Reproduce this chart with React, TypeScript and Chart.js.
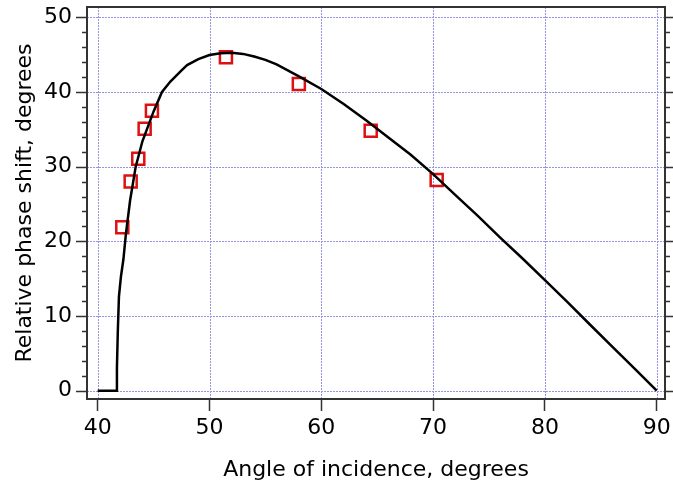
import React, { useEffect, useRef } from "react";
import { Chart, registerables } from "chart.js";

Chart.register(...registerables);

// Theoretical curve
const curveAngles = [40, 41.7, 41.72, 41.8, 41.9, 42.08, 42.3, 42.53, 42.9, 43.4, 44, 45, 45.75, 46.5, 47.5, 48, 49, 50, 51, 52, 53, 54, 55, 56, 58, 60, 62, 64, 66, 68, 70, 72, 74, 76, 78, 80, 82, 84, 86, 88, 90];
const curvePhase = [0, 0, 3, 8, 12.6, 15.3, 17.6, 21.1, 25.5, 30, 33.4, 37.4, 40, 41.4, 42.9, 43.6, 44.4, 44.95, 45.2, 45.25, 45.1, 44.75, 44.3, 43.7, 42.1, 40.4, 38.4, 36.2, 33.9, 31.6, 29.0, 26.2, 23.4, 20.5, 17.7, 14.8, 11.9, 8.9, 5.95, 3.0, 0];

// Measured points (red squares)
const measuredAngles = [42.2, 42.95, 43.63, 44.2, 44.85, 51.47, 57.99, 64.42, 70.32];
const measuredPhase = [21.9, 28.0, 31.06, 35.08, 37.5, 44.64, 41.07, 34.81, 28.2];

// Axes
const xTicks = [40, 50, 60, 70, 80, 90];
const yTicks = [0, 10, 20, 30, 40, 50];
const yMinorTicks = [0, 2, 4, 6, 8, 10, 12, 14, 16, 18, 20, 22, 24, 26, 28, 30, 32, 34, 36, 38, 40, 42, 44, 46, 48, 50];
const xRange = [39.043, 90.742];
const yRange = [-1.11, 51.38];

const FONT = { family: "'DejaVu Sans', sans-serif", size: 22 };
const GRID_COLOR = "#9494e0";
const FRAME_COLOR = "#333333";

const gridPlugin = {
  id: "dottedGrid",
  beforeDatasetsDraw(chart: any) {
    const { ctx, chartArea } = chart;
    const { left, right, top, bottom } = chartArea;
    const xs = chart.scales.x;
    const ys = chart.scales.y;
    ctx.save();
    ctx.strokeStyle = GRID_COLOR;
    ctx.lineWidth = 1;
    ctx.setLineDash([2, 1]);
    ctx.beginPath();
    for (const v of xTicks) {
      const px = Math.round(xs.getPixelForValue(v)) + 0.5;
      ctx.moveTo(px, top);
      ctx.lineTo(px, bottom);
    }
    for (const v of yTicks) {
      const py = Math.round(ys.getPixelForValue(v)) + 0.5;
      ctx.moveTo(left, py);
      ctx.lineTo(right, py);
    }
    ctx.stroke();
    ctx.restore();
  },
};

const framePlugin = {
  id: "frameAndTicks",
  afterDraw(chart: any) {
    const { ctx, chartArea } = chart;
    const y = chart.scales.y;
    const { left, right, top, bottom } = chartArea;
    ctx.save();
    ctx.strokeStyle = FRAME_COLOR;
    ctx.lineWidth = 1.5;
    ctx.beginPath();
    for (const v of yMinorTicks) {
      const py = Math.round(y.getPixelForValue(v)) + 0.5;
      const major = v % 10 === 0;
      ctx.moveTo(left, py);
      ctx.lineTo(left - (major ? 11 : 5), py);
      ctx.moveTo(right, py);
      ctx.lineTo(right + (major ? 8 : 5), py);
    }
    ctx.stroke();
    ctx.lineWidth = 2;
    ctx.strokeRect(left, top, right - left, bottom - top);
    ctx.restore();
  },
};

const zeroPadding = (s: any) => {
  s.paddingTop = 0;
  s.paddingBottom = 0;
  s.paddingLeft = 0;
  s.paddingRight = 0;
};

export default function App() {
  const canvasRef = useRef<HTMLCanvasElement | null>(null);

  useEffect(() => {
    if (!canvasRef.current) return;
    const chart = new Chart(canvasRef.current, {
      type: "scatter",
      data: {
        datasets: [
          {
            label: "Theory",
            data: curveAngles.map((a, i) => ({ x: a, y: curvePhase[i] })),
            showLine: true,
            borderColor: "#000000",
            borderWidth: 2.5,
            pointRadius: 0,
            tension: 0,
            order: 0,
          },
          {
            label: "Measured",
            data: measuredAngles.map((a, i) => ({ x: a, y: measuredPhase[i] })),
            showLine: false,
            pointStyle: "rect",
            pointRadius: 8.5,
            pointHoverRadius: 8.5,
            borderColor: "#dd1111",
            backgroundColor: "rgba(0,0,0,0)",
            pointBorderWidth: 2.5,
            borderWidth: 2.5,
            order: 1,
          },
        ],
      },
      options: {
        animation: false,
        responsive: true,
        maintainAspectRatio: false,
        layout: { autoPadding: false, padding: { left: 0, top: 7, right: 8, bottom: 0 } },
        plugins: { legend: { display: false }, tooltip: { enabled: false } },
        scales: {
          x: {
            type: "linear",
            min: xRange[0],
            max: xRange[1],
            afterBuildTicks: (s: any) => {
              s.ticks = xTicks.map((v) => ({ value: v }));
            },
            afterFit: (s: any) => {
              s.height = 88;
              zeroPadding(s);
            },
            ticks: {
              font: FONT,
              color: "#000",
              padding: 4,
              maxRotation: 0,
              autoSkip: false,
              callback: (v: any) => String(v),
            },
            grid: {
              drawOnChartArea: false,
              drawTicks: true,
              tickLength: 12,
              tickColor: FRAME_COLOR,
              tickWidth: 1.5,
            },
            border: { display: false },
            title: {
              display: true,
              text: "Angle of incidence, degrees",
              font: FONT,
              color: "#000",
              padding: { top: 0, bottom: 4 },
            },
          },
          y: {
            type: "linear",
            min: yRange[0],
            max: yRange[1],
            afterBuildTicks: (s: any) => {
              s.ticks = yTicks.map((v) => ({ value: v }));
            },
            afterFit: (s: any) => {
              s.width = 87;
              zeroPadding(s);
            },
            ticks: {
              font: FONT,
              color: "#000",
              padding: 15,
              autoSkip: false,
              callback: (v: any) => String(v),
            },
            grid: {
              drawOnChartArea: false,
              drawTicks: false,
            },
            border: { display: false },
            title: {
              display: true,
              text: "Relative phase shift, degrees",
              font: FONT,
              color: "#000",
              padding: { top: 12, bottom: 0 },
            },
          },
        },
      },
      plugins: [gridPlugin, framePlugin],
    } as any);
    return () => chart.destroy();
  }, []);

  return (
    <div style={{ position: "fixed", left: 0, top: 0, width: 673, height: 487, background: "#fff" }}>
      <canvas ref={canvasRef} />
    </div>
  );
}
